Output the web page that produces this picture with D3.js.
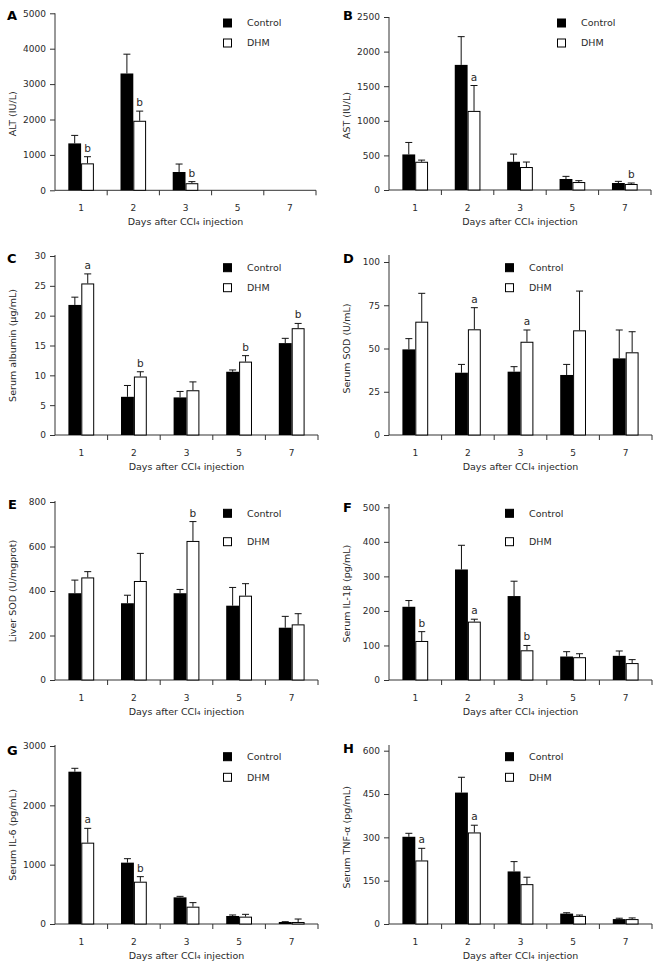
<!DOCTYPE html>
<html><head><meta charset="utf-8">
<script src="https://cdn.jsdelivr.net/npm/d3@7"></script>
<style>
body{margin:0;background:#fff}
svg{display:block}
text{font-family:"DejaVu Sans",Verdana,sans-serif;fill:#2a2a2a}
</style>
</head><body>
<svg id="c" width="661" height="966"></svg>
<script>
// ---------- data ----------
const days = ["1", "2", "3", "5", "7"];
const series = ["Control", "DHM"];

const altCtrl = [1325, 3300, 517, null, null];
const altCtrlSD = [226, 545, 225, null, null];
const altDhm = [761, 1964, 200, null, null];
const altDhmSD = [188, 273, 45, null, null];
const altSig = ["b", "b", "b", "", ""];

const astCtrl = [514, 1808, 408, 159, 101];
const astCtrlSD = [173, 408, 111, 38, 24];
const astDhm = [408, 1143, 332, 115, 87];
const astDhmSD = [24, 367, 72, 20, 14];
const astSig = ["", "a", "", "", "b"];

const albCtrl = [21.8, 6.4, 6.3, 10.6, 15.4];
const albCtrlSD = [1.3, 1.9, 1.0, 0.3, 0.8];
const albDhm = [25.4, 9.8, 7.5, 12.3, 17.9];
const albDhmSD = [1.6, 0.8, 1.4, 1.0, 0.8];
const albSig = ["a", "b", "", "b", "b"];

const ssodCtrl = [49.5, 36.0, 36.6, 34.7, 44.3];
const ssodCtrlSD = [6.2, 4.8, 2.9, 6.1, 16.4];
const ssodDhm = [65.5, 61.1, 53.9, 60.5, 47.8];
const ssodDhmSD = [16.4, 12.5, 6.8, 22.7, 11.9];
const ssodSig = ["", "a", "a", "", ""];

const lsodCtrl = [390, 345, 390, 334, 235];
const lsodCtrlSD = [59, 36, 17, 82, 51];
const lsodDhm = [461, 445, 625, 379, 250];
const lsodDhmSD = [26, 124, 87, 54, 48];
const lsodSig = ["", "", "b", "", ""];

const il1Ctrl = [212, 320, 243, 68, 70];
const il1CtrlSD = [18, 70, 43, 14, 14];
const il1Dhm = [113, 169, 86, 66, 49];
const il1DhmSD = [27, 7, 14, 10, 10];
const il1Sig = ["b", "a", "b", "", ""];

const il6Ctrl = [2567, 1034, 449, 135, 34];
const il6CtrlSD = [57, 67, 17, 17, 5];
const il6Dhm = [1371, 713, 292, 124, 34];
const il6DhmSD = [241, 85, 68, 39, 50];
const il6Sig = ["a", "b", "", "", ""];

const tnfCtrl = [302, 455, 182, 36, 17];
const tnfCtrlSD = [12, 53, 34, 3, 3];
const tnfDhm = [220, 317, 138, 28, 17];
const tnfDhmSD = [42, 25, 24, 3, 4];
const tnfSig = ["a", "a", "", "", ""];

const panelIds = ["A", "B", "C", "D", "E", "F", "G", "H"];
const yTitles = ["ALT (IU/L)", "AST (IU/L)", "Serum albumin (\u03bcg/mL)", "Serum SOD (U/mL)",
  "Liver SOD (U/mgprot)", "Serum IL-1\u03b2 (pg/mL)", "Serum IL-6 (pg/mL)", "Serum TNF-\u03b1 (pg/mL)"];
const yMax = [5000, 2500, 30, 100, 800, 500, 3000, 600];
const yStep = [1000, 500, 5, 25, 200, 100, 1000, 150];
const xTitle = "Days after CCl\u2084 injection";

const panels = [
  [altCtrl, altCtrlSD, altDhm, altDhmSD, altSig],
  [astCtrl, astCtrlSD, astDhm, astDhmSD, astSig],
  [albCtrl, albCtrlSD, albDhm, albDhmSD, albSig],
  [ssodCtrl, ssodCtrlSD, ssodDhm, ssodDhmSD, ssodSig],
  [lsodCtrl, lsodCtrlSD, lsodDhm, lsodDhmSD, lsodSig],
  [il1Ctrl, il1CtrlSD, il1Dhm, il1DhmSD, il1Sig],
  [il6Ctrl, il6CtrlSD, il6Dhm, il6DhmSD, il6Sig],
  [tnfCtrl, tnfCtrlSD, tnfDhm, tnfDhmSD, tnfSig]
].map((a, i) => ({
  id: panelIds[i], yTitle: yTitles[i], max: yMax[i], step: yStep[i],
  values: [a[0], a[2]], sds: [a[1], a[3]], sig: a[4]
}));

// ---------- layout ----------
const layout = {
  A: {left: 55, right: 316, top: 13.3, bottom: 190.3, axisTop: 13.3, legX: 223, legY: [23, 43], letX: 7, letY: 20, titleDy: 12},
  B: {left: 389, right: 651, top: 17, bottom: 190, axisTop: 17, legX: 557, legY: [23, 43], letX: 343, letY: 20, titleDy: 12},
  C: {left: 55, right: 318, top: 256, bottom: 435, axisTop: 255, legX: 223, legY: [267.7, 287.7], letX: 7, letY: 263, titleDy: 0},
  D: {left: 389, right: 652, top: 262, bottom: 435, axisTop: 255, legX: 505, legY: [267.7, 287.7], letX: 343, letY: 263, titleDy: 0},
  E: {left: 55, right: 318, top: 502, bottom: 680, axisTop: 501, legX: 223, legY: [513.3, 541.7], letX: 8, letY: 509, titleDy: 0},
  F: {left: 389, right: 652, top: 507.3, bottom: 680, axisTop: 504, legX: 505, legY: [513.3, 541.7], letX: 343, letY: 512, titleDy: 0},
  G: {left: 55, right: 318, top: 746, bottom: 924, axisTop: 745, legX: 223, legY: [756.7, 777.3], letX: 7, letY: 755, titleDy: 0},
  H: {left: 389, right: 652, top: 750.7, bottom: 924, axisTop: 745, legX: 505, legY: [756.7, 777.3], letX: 343, letY: 753, titleDy: 0}
};

const AX = "#333";
const svg = d3.select("#c");
svg.append("rect").attr("width", 661).attr("height", 966).attr("fill", "#fff");

panels.forEach(p => {
  const L = layout[p.id];
  const g = svg.append("g");
  const x = d3.scaleBand().domain(days).range([L.left, L.right]);
  const xs = d3.scaleBand().domain(series).range([0, x.bandwidth()]).paddingOuter(1.04);
  const y = d3.scaleLinear().domain([0, p.max]).range([L.bottom, L.top]);

  // y axis
  const yg = g.append("g").attr("transform", `translate(${L.left},0)`)
    .call(d3.axisLeft(y).tickValues(d3.range(0, p.max + p.step / 2, p.step))
      .tickSize(5).tickPadding(4).tickFormat(d3.format("d")));
  yg.select(".domain").remove();
  yg.selectAll("line").attr("stroke", AX);
  yg.selectAll("text").attr("font-size", 9).attr("font-family", "DejaVu Sans").attr("fill", "#2a2a2a");
  g.append("line").attr("x1", L.left).attr("x2", L.left).attr("y1", L.axisTop).attr("y2", L.bottom).attr("stroke", AX);

  // x axis
  const xg = g.append("g").attr("transform", `translate(0,${L.bottom})`)
    .call(d3.axisBottom(x).tickSize(0).tickPadding(14.6));
  xg.select(".domain").remove();
  xg.selectAll("text").attr("font-size", 9).attr("font-family", "DejaVu Sans").attr("fill", "#2a2a2a");
  g.append("line").attr("x1", L.left).attr("x2", L.right).attr("y1", L.bottom).attr("y2", L.bottom).attr("stroke", AX);
  g.selectAll(".bt").data(days).enter().append("line")
    .attr("x1", d => x(d) + x.bandwidth()).attr("x2", d => x(d) + x.bandwidth())
    .attr("y1", L.bottom).attr("y2", L.bottom + 5).attr("stroke", AX);

  // bars
  const rows = [];
  series.forEach((s, si) => days.forEach((d, di) => {
    const v = p.values[si][di];
    if (v != null) rows.push({s, si, d, v, sd: p.sds[si][di], sig: si === 1 ? p.sig[di] : ""});
  }));
  const cx = r => x(r.d) + xs(r.s) + xs.bandwidth() / 2;

  // error bars
  rows.forEach(r => {
    const yt = y(r.v + r.sd);
    g.append("line").attr("x1", cx(r)).attr("x2", cx(r)).attr("y1", y(r.v)).attr("y2", yt).attr("stroke", "#111");
    g.append("line").attr("x1", cx(r) - 3.5).attr("x2", cx(r) + 3.5).attr("y1", yt).attr("y2", yt).attr("stroke", "#111");
    if (r.sig) g.append("text").attr("x", cx(r)).attr("y", yt - 5).attr("text-anchor", "middle")
      .attr("font-size", 10.5).text(r.sig);
  });
  g.selectAll(".bar").data(rows).enter().append("rect")
    .attr("x", r => x(r.d) + xs(r.s) + (r.si ? 0.5 : 0))
    .attr("width", r => xs.bandwidth() - (r.si ? 1 : 0))
    .attr("y", r => y(r.v) + (r.si ? 0.5 : 0))
    .attr("height", r => Math.max(0, L.bottom - y(r.v) - (r.si ? 0.5 : 0)))
    .attr("fill", r => r.si ? "#fff" : "#000")
    .attr("stroke", r => r.si ? "#000" : "none").attr("stroke-width", 1);

  // legend
  series.forEach((s, si) => {
    g.append("rect").attr("x", L.legX + 0.5).attr("y", L.legY[si] - 4).attr("width", 8).attr("height", 8)
      .attr("fill", si ? "#fff" : "#000").attr("stroke", "#000");
    g.append("text").attr("x", L.legX + 24).attr("y", L.legY[si]).attr("dy", "0.35em")
      .attr("font-size", 9.5).text(s);
  });

  // titles
  g.append("text").attr("x", (L.left + L.right) / 2).attr("y", L.bottom + 34.5)
    .attr("text-anchor", "middle").attr("font-size", 9.5).text(xTitle);
  g.append("text")
    .attr("transform", `translate(${L.left - 42},${(L.top + L.bottom) / 2 + L.titleDy}) rotate(-90)`)
    .attr("text-anchor", "middle").attr("dy", "0.35em").attr("font-size", 9.5).text(p.yTitle);
  g.append("text").attr("x", L.letX).attr("y", L.letY).attr("font-size", 13).attr("font-weight", "bold")
    .style("fill", "#000").text(p.id);
});
</script>
</body></html>
